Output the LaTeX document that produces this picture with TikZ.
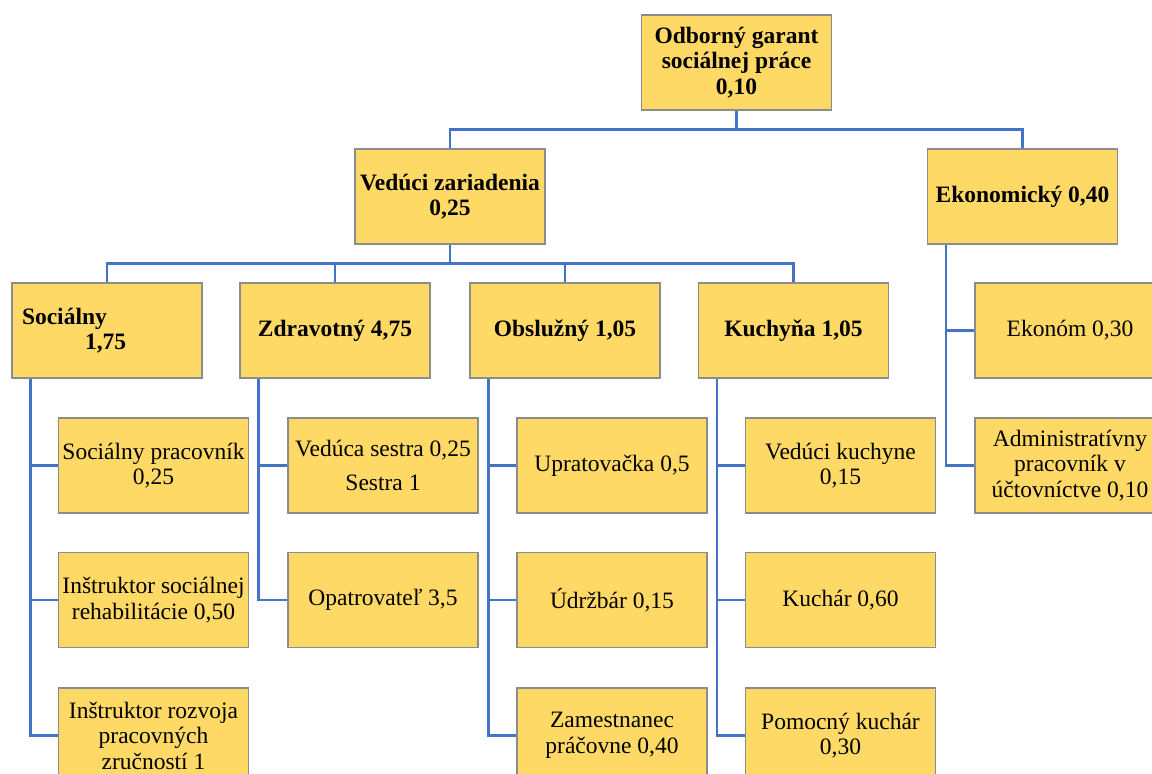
\documentclass[tikz,border=0pt]{standalone}
\usepackage{fontspec}
\setmainfont{Liberation Serif}
\usetikzlibrary{calc}
\definecolor{boxfill}{HTML}{FFD966}
\definecolor{boxline}{HTML}{8C8C8C}
\definecolor{linkblue}{HTML}{4472C4}
\tikzset{
  unit/.style={draw=boxline, fill=boxfill, line width=1.2pt, minimum width=190pt,
    minimum height=95pt, inner sep=2pt, align=center,
    font=\fontsize{23.5}{25.5}\selectfont\bfseries},
  staff/.style={unit, font=\fontsize{23.5}{25.5}\selectfont},
  link it/.style={draw=linkblue, line width=2.6pt}
}

\begin{document}
\begin{tikzpicture}[x=1pt,y=-1pt]
    \useasboundingbox (0,0) rectangle (1152,774);
    \clip (0,0) rectangle (1152,774);
    \pgfmathsetmacro{\drop}{19}
    % top of the chart
    \node [unit] (garant) at (736.5,62.5) {Odborný garant\\sociálnej práce\\0,10};
    \node [unit] (veduci) at (450,196.5) {Vedúci zariadenia\\0,25};
    \node [unit] (ekonomicky) at (1022.5,196.5) {Ekonomický 0,40};
    % departments
    \node [unit, text width=170pt, align=left] (socialny) at (107,330.5) {Sociálny\\\hspace*{63pt}1,75};
    \node [unit] (zdravotny) at (335,330.5) {Zdravotný 4,75};
    \node [unit] (obsluzny) at (565,330.5) {Obslužný 1,05};
    \node [unit] (kuchyna) at (793.5,330.5) {Kuchyňa 1,05};
    % staff
    \node [staff] (socprac) at (153.5,465.5) {Sociálny pracovník\\0,25};
    \node [staff] (instrreh) at (153.5,600) {Inštruktor sociálnej\\rehabilitácie 0,50};
    \node [staff] (instrroz) at (153.5,735.5) {Inštruktor rozvoja\\pracovných\\zručností 1};
    \node [staff] (sestra) at (383,465.5) {Vedúca sestra 0,25\\[8pt]Sestra 1};
    \node [staff] (opatr) at (383,600) {Opatrovateľ 3,5};
    \node [staff] (uprat) at (612,465.5) {Upratovačka 0,5};
    \node [staff] (udrzbar) at (612,600) {Údržbár 0,15};
    \node [staff] (pracovna) at (612,735.5) {Zamestnanec\\práčovne 0,40};
    \node [staff] (vedkuch) at (840.5,465.5) {Vedúci kuchyne\\0,15};
    \node [staff] (kuchar) at (840.5,600) {Kuchár 0,60};
    \node [staff] (pomkuch) at (840.5,735.5) {Pomocný kuchár\\0,30};
    \node [staff] (ekonom) at (1070,330.5) {Ekonóm 0,30};
    \node [staff] (admin) at (1070,465.5) {Administratívny\\pracovník v\\účtovníctve 0,10};
    % connectors
    \draw [link it] (garant.south) -- ++(0,\drop) -| (veduci.north);
    \draw [link it] (garant.south) -- ++(0,\drop) -| (ekonomicky.north);
    \foreach \dept in {socialny,zdravotny,obsluzny,kuchyna}
        \draw [link it] (veduci.south) -- ++(0,\drop) -| (\dept.north);
    \foreach \dept/\person in {socialny/socprac, socialny/instrreh, socialny/instrroz,
        zdravotny/sestra, zdravotny/opatr, obsluzny/uprat, obsluzny/udrzbar,
        obsluzny/pracovna, kuchyna/vedkuch, kuchyna/kuchar, kuchyna/pomkuch,
        ekonomicky/ekonom, ekonomicky/admin}
        \draw [link it] ([xshift=\drop pt]\dept.south west) |- (\person.west);
\end{tikzpicture}
\end{document}
